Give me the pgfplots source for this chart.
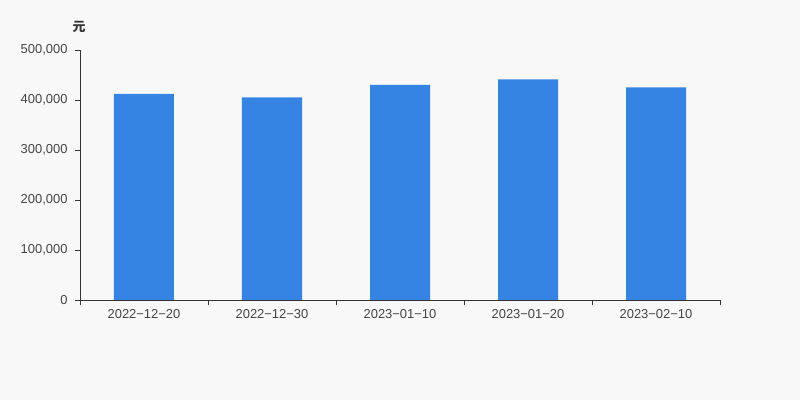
\documentclass[border=0pt]{standalone}
\usepackage{pgfplots}
\pgfplotsset{compat=1.18}
\usepackage{fontspec}
\setmainfont{Liberation Sans}
\newfontfamily\cjk{Noto Sans CJK SC}
\usetikzlibrary{calc,backgrounds}
\definecolor{bg}{HTML}{F8F8F8}
\definecolor{barblue}{HTML}{3584E4}
\definecolor{axisgray}{HTML}{333333}
\definecolor{labelgray}{HTML}{444444}

\begin{document}
\begin{tikzpicture}
\begin{axis}[
    name=ax,
    scale only axis,
    width=640bp, height=250bp,
    xmin=-0.5, xmax=4.5,
    ymin=0, ymax=500000,
    axis lines*=left,
    axis line style={axisgray, line width=0.8pt},
    xtick={0,1,2,3,4},
    xticklabels={2022−12−20,2022−12−30,2023−01−10,2023−01−20,2023−02−10},
    minor xtick={-0.5,0.5,1.5,2.5,3.5,4.5},
    ytick={0,100000,200000,300000,400000,500000},
    yticklabels={0,{100,000},{200,000},{300,000},{400,000},{500,000}},
    scaled y ticks=false,
    tick style={axisgray, line width=0.8pt},
    major tick length=5bp,
    minor tick length=5bp,
    major x tick style={draw=none},
    tick align=outside,
    ticklabel style={font=\fontsize{13}{15}\selectfont, text=labelgray},
    xticklabel style={yshift=-1bp},
    yticklabel style={xshift=-4bp},
    ybar, bar width=60bp, bar shift=0pt,
    clip=false,
]
\addplot[fill=barblue, draw=none] coordinates {
    (0,412000) (1,405000) (2,430000) (3,441000) (4,425000)
};
\node[font=\cjk\fontsize{13}{15}\selectfont\bfseries, text=axisgray, yshift=23bp, xshift=-1bp] at (rel axis cs:0,1) {元};
\end{axis}
\begin{scope}[on background layer]
\fill[bg] ($(ax.south west)+(-80bp,-100bp)$) rectangle ($(ax.north east)+(80bp,50bp)$);
\end{scope}
\end{tikzpicture}
\end{document}
